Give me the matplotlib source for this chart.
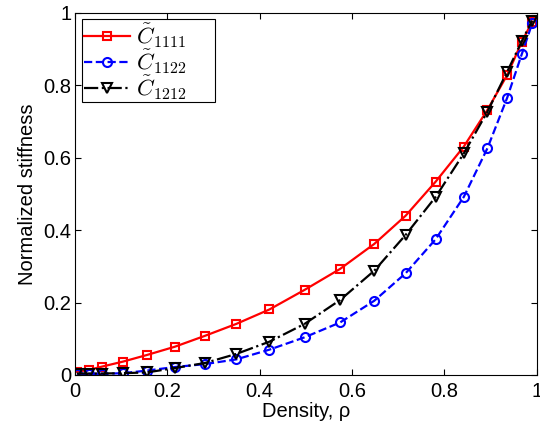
import matplotlib
matplotlib.use("Agg")
import matplotlib.pyplot as plt
from matplotlib.patches import Rectangle

plt.rcParams['font.family'] = ['Liberation Sans', 'DejaVu Sans']
plt.rcParams['mathtext.fontset'] = 'cm'

# densidad y rigideces normalizadas
rho = [0.004, 0.03, 0.058, 0.104, 0.155, 0.216, 0.281, 0.349, 0.421, 0.497,
       0.574, 0.648, 0.716, 0.781, 0.842, 0.893, 0.936, 0.968, 0.99]
c1111 = [0.009, 0.014, 0.023, 0.037, 0.055, 0.078, 0.108, 0.141, 0.181, 0.235,
         0.293, 0.362, 0.44, 0.534, 0.631, 0.732, 0.829, 0.921, 0.976]
c1122 = [0.003, 0.003, 0.003, 0.005, 0.012, 0.022, 0.03, 0.043, 0.07, 0.104,
         0.145, 0.205, 0.281, 0.375, 0.492, 0.626, 0.766, 0.888, 0.971]
c1212 = [0.004, 0.004, 0.004, 0.005, 0.007, 0.019, 0.033, 0.058, 0.092, 0.141,
         0.207, 0.288, 0.387, 0.492, 0.612, 0.727, 0.838, 0.923, 0.979]
ticks = [0, 0.2, 0.4, 0.6, 0.8, 1]
tick_labels = ['0', '0.2', '0.4', '0.6', '0.8', '1']

fig = plt.figure(figsize=(5.4, 4.33), dpi=100)
ax = fig.add_axes([0.139, 0.134, 0.855, 0.836])

ax.plot(rho, c1111, '-', color='red', lw=1.6, marker='s', ms=5.5,
        mfc='none', mew=1.5, label=r'$\tilde{C}_{1111}$')
ax.plot(rho, c1122, '--', color='blue', lw=1.6, marker='o', ms=6.5,
        mfc='none', mew=1.5, label=r'$\tilde{C}_{1122}$')
ax.plot(rho, c1212, '-.', color='black', lw=1.6, marker='v', ms=7,
        mfc='none', mew=1.5, label=r'$\tilde{C}_{1212}$')

ax.set_xlim(0, 1)
ax.set_ylim(0, 1)
ax.set_xticks(ticks)
ax.set_yticks(ticks)
ax.set_xticklabels(tick_labels)
ax.set_yticklabels(tick_labels)
ax.tick_params(direction='in', top=True, right=True, labelsize=14.5, length=4)
ax.tick_params(axis='x', pad=5)
ax.tick_params(axis='y', pad=2.5)
for s in ax.spines.values():
    s.set_linewidth(0.8)

ax.set_xlabel('Density, ρ', fontsize=14.5, labelpad=1)
ax.set_ylabel('Normalized stiffness', fontsize=14.5, labelpad=5)

# marco de la leyenda dibujado aparte: en el original es mas ancho que el texto
ax.add_patch(Rectangle((0.015, 0.754), 0.288, 0.229, transform=ax.transAxes,
                       facecolor='white', edgecolor='black', lw=0.8, zorder=4))
leg = ax.legend(loc='upper left', bbox_to_anchor=(0.015, 0.983),
                fontsize=16.5, frameon=False, handlelength=2.0,
                borderaxespad=0, labelspacing=-0.1, borderpad=0.1,
                handletextpad=0.25)
leg.set_zorder(5)

fig.savefig('out.png', dpi=100)
